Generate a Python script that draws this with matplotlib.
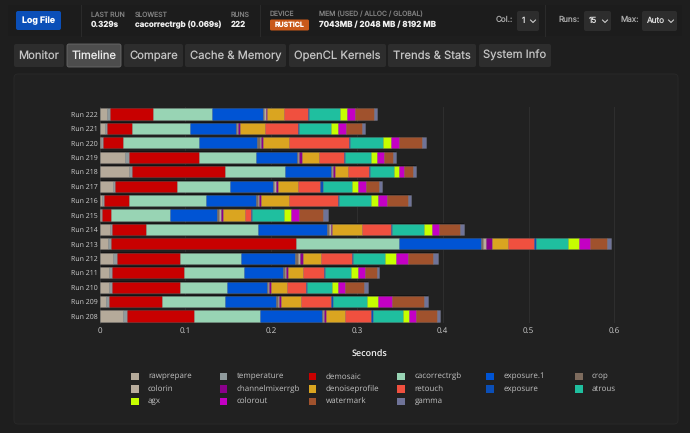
import matplotlib
matplotlib.use('Agg')
import matplotlib.pyplot as plt
import numpy as np
from matplotlib.patches import FancyBboxPatch, Rectangle

plt.rcParams['text.hinting'] = 'no_hinting'
plt.rcParams['text.hinting_factor'] = 1

# runs, top to bottom
runs = ['Run 222', 'Run 221', 'Run 220', 'Run 219', 'Run 218', 'Run 217', 'Run 216', 'Run 215',
        'Run 214', 'Run 213', 'Run 212', 'Run 211', 'Run 210', 'Run 209', 'Run 208']

# module times in ms
rawprepare = [8.2, 6.2, 2.3, 29.5, 34.1, 15.5, 2.7, 1.2, 12.5, 10.1, 15.5, 10.8, 10.8, 7.8, 27.2]
temperature = [3.5, 2.3, 1.2, 4.7, 4.3, 2.7, 3.1, 1.5, 2.0, 3.5, 4.7, 3.5, 3.5, 3.1, 4.3]
demosaic = [50.7, 29.1, 23.9, 81.9, 108.4, 72.3, 28.3, 10.8, 40.0, 215.6, 73.8, 83.9, 79.6, 62.1, 78.9]
cacorrectrgb = [68.8, 68.2, 88.0, 66.1, 69.9, 62.1, 90.6, 69.1, 130.2, 120.4, 71.4, 69.9, 54.8, 73.1, 76.6]
exposure_1 = [59.4, 53.0, 68.2, 47.8, 53.6, 49.3, 57.5, 54.8, 80.4, 95.2, 62.4, 46.0, 46.3, 59.4, 72.3]
crop = [1.7, 1.2, 2.9, 1.7, 1.2, 1.7, 2.3, 2.3, 2.9, 2.6, 4.1, 2.3, 1.2, 2.7, 1.7]
colorin = [1.2, 1.7, 1.2, 1.4, 1.2, 1.7, 1.2, 1.7, 1.7, 2.6, 1.5, 1.2, 1.2, 0.8, 1.2]
channelmixerrgb = [2.3, 2.3, 2.3, 2.9, 2.3, 2.9, 2.3, 2.9, 1.7, 7.3, 4.1, 1.7, 2.3, 2.3, 2.3]
denoiseprofile = [19.8, 28.6, 31.1, 19.8, 15.2, 22.7, 33.2, 25.3, 34.1, 18.6, 21.0, 18.1, 18.6, 23.3, 21.6]
retouch = [27.4, 38.5, 69.9, 28.8, 23.9, 26.2, 56.8, 6.4, 33.8, 30.3, 35.5, 23.9, 21.8, 35.0, 30.3]
exposure = [1.2, 1.2, 1.2, 1.2, 1.2, 2.9, 1.2, 1.7, 1.2, 2.1, 1.2, 1.2, 1.5, 2.3, 2.1]
atrous = [36.1, 37.3, 38.5, 31.1, 27.4, 33.8, 36.9, 37.6, 37.9, 37.6, 37.3, 30.9, 29.1, 39.3, 35.0]
agx = [8.7, 8.5, 9.3, 6.6, 6.2, 7.0, 9.0, 8.2, 8.7, 12.5, 13.4, 7.9, 7.0, 13.2, 7.0]
colorout = [9.3, 9.7, 9.0, 8.2, 6.2, 9.3, 9.9, 8.5, 8.7, 13.8, 14.0, 8.2, 8.7, 16.3, 8.2]
watermark = [21.6, 18.1, 27.2, 10.8, 10.5, 16.0, 24.4, 28.0, 23.9, 19.8, 29.1, 13.4, 22.1, 37.3, 24.5]
gamma = [3.5, 3.8, 3.8, 3.1, 2.7, 3.5, 4.1, 5.8, 5.2, 3.8, 5.8, 3.1, 4.7, 4.3, 3.8]

modules = [('rawprepare', rawprepare, '#b5aa9a'), ('temperature', temperature, '#8f9a9c'),
           ('demosaic', demosaic, '#c80000'), ('cacorrectrgb', cacorrectrgb, '#98d4b4'),
           ('exposure.1', exposure_1, '#0054d4'), ('crop', crop, '#7d6b5d'),
           ('colorin', colorin, '#b8ac9c'), ('channelmixerrgb', channelmixerrgb, '#8b008b'),
           ('denoiseprofile', denoiseprofile, '#daa520'), ('retouch', retouch, '#f0503f'),
           ('exposure', exposure, '#0b4fb8'), ('atrous', atrous, '#1fbf9f'),
           ('agx', agx, '#c6ff00'), ('colorout', colorout, '#c400c4'),
           ('watermark', watermark, '#a0522d'), ('gamma', gamma, '#6f7398')]

tabs = [('Monitor', 14, 64), ('Timeline', 67, 121), ('Compare', 124, 183), ('Cache & Memory', 185, 286),
        ('OpenCL Kernels', 289, 386), ('Trends & Stats', 388, 476), ('System Info', 479, 551)]

W, H = 690, 433
fig = plt.figure(figsize=(W / 100, H / 100), dpi=100, facecolor='#1e1e1e')

# page chrome, in pixel coordinates
ui = fig.add_axes([0, 0, 1, 1])
ui.set_xlim(0, W)
ui.set_ylim(H, 0)
ui.axis('off')


def box(x0, y0, x1, y1, fc, ec='none', r=2, lw=0.6):
    ui.add_patch(FancyBboxPatch((x0 + r, y0 + r), x1 - x0 - 2 * r, y1 - y0 - 2 * r,
                                boxstyle='round,pad=%g,rounding_size=%g' % (r, r),
                                fc=fc, ec=ec, lw=lw))


def label(x, y, s, size=6.5, color='#e0e0e0', weight='normal', ha='left', family='Inter'):
    ui.text(x, y, s, fontsize=size, color=color, fontweight=weight, ha=ha, va='center', family=family)


def select(x0, x1, s):
    box(x0, 11, x1, 31, '#2d2d2d')
    label(x0 + 4.5, 21, s, 5.9, '#dddddd')
    ui.plot([x1 - 8.5, x1 - 6, x1 - 3.5], [20, 22.5, 20], color='#dddddd', lw=0.7)


# header
ui.add_patch(Rectangle((8, 5), 674, 31, fc='#1c1c1c', ec='none'))
for sx in [81, 260, 545]:
    ui.plot([sx, sx], [5, 36], color='#2a2a2a', lw=0.8)
box(16, 11, 61, 30, '#0b4fb8')
label(38.5, 20.5, 'Log File', 6.3, '#ffffff', 'bold', 'center')
label(91, 14.5, 'LAST RUN', 4.9, '#808080')
label(91, 24.5, '0.329s', 5.8, '#f0f0f0', 'bold')
label(135, 14.5, 'SLOWEST', 4.9, '#808080')
label(135, 24.5, 'cacorrectrgb (0.069s)', 5.7, '#f0f0f0', 'bold')
label(231, 14.5, 'RUNS', 4.9, '#808080')
label(231, 24.5, '222', 5.8, '#f0f0f0', 'bold')
label(270, 14, 'DEVICE', 4.9, '#808080')
box(270, 19.5, 309, 30.5, '#c9591a', r=1.5)
label(289.5, 25, 'RUSTICL', 5, '#ffffff', 'bold', 'center')
label(319, 14.5, 'MEM (USED / ALLOC / GLOBAL)', 4.9, '#808080')
label(319, 24.5, '7043MB / 2048 MB / 8192 MB', 5.8, '#f0f0f0', 'bold')

# header controls
label(496, 20, 'Col.:', 5.8, '#aaaaaa')
select(517, 539, '1')
label(558, 20, 'Runs:', 5.8, '#aaaaaa')
select(584, 611, '15')
label(620, 20, 'Max:', 5.8, '#aaaaaa')
select(642, 677, 'Auto')

# tabs
for name, x0, x1 in tabs:
    active = name == 'Timeline'
    box(x0, 44, x1, 67, '#4d4d4d' if active else '#2d2d2d', '#6a6a6a' if active else 'none')
    label((x0 + x1) / 2, 55.5, name, 8.1, '#eeeeee' if active else '#c4c4c4', ha='center')

# chart panel
box(14, 74, 678, 424, '#212121', '#2a2a2a', r=4)

# chart itself, axes placed to match the plot area
left, right, top, bottom = 99.5, 634, 106.8, 323.2
ax = fig.add_axes([left / W, 1 - bottom / H, (right - left) / W, (bottom - top) / H])
ax.patch.set_alpha(0)
y = np.arange(len(runs))
base = np.zeros(len(runs))
totals = sum(np.array(vals) for _, vals, _ in modules) / 1000
ax.barh(y, totals, height=0.88, color='#151515', zorder=2)
for name, vals, col in modules:
    sec = np.array(vals) / 1000
    ax.barh(y, sec, left=base, height=0.78, color=col, edgecolor='#ffffff30', linewidth=0.4, zorder=3)
    base += sec
ax.set_xlim(0, (right - left) / 858)
ax.set_ylim(len(runs) - 0.5, -0.5)
ax.set_yticks(y)
ax.set_yticklabels(runs)
ax.set_xticks([0, 0.1, 0.2, 0.3, 0.4, 0.5, 0.6])
ax.set_xticklabels(['0', '0.1', '0.2', '0.3', '0.4', '0.5', '0.6'])
ax.tick_params(axis='x', length=0, labelsize=5.5, labelcolor='#d0d0d0', pad=2.5)
ax.tick_params(axis='y', length=0, labelsize=5.3, labelcolor='#d0d0d0', pad=1.5)
ax.grid(axis='x', color='#2f2f2f', lw=0.7, zorder=0)
for s in ['top', 'right', 'bottom']:
    ax.spines[s].set_visible(False)
ax.spines['left'].set_color('#333333')
ax.spines['left'].set_linewidth(0.7)
for t in ax.get_xticklabels() + ax.get_yticklabels():
    t.set_family('Open Sans')

label(369, 354, 'Seconds', 6.6, '#f5f5f5', 'semibold', 'center', 'Open Sans')

# legend, six columns filled row by row
for i, (name, vals, col) in enumerate(modules):
    lx = 131 + (i % 6) * 88.8
    ly = 376.5 + (i // 6) * 12.4
    ui.add_patch(Rectangle((lx, ly - 3.7), 7.5, 7.5, fc=col, ec='none'))
    label(lx + 17, ly, name, 5.6, '#c0c0c0', family='Open Sans')

fig.savefig('out.png', dpi=100, facecolor=fig.get_facecolor())
